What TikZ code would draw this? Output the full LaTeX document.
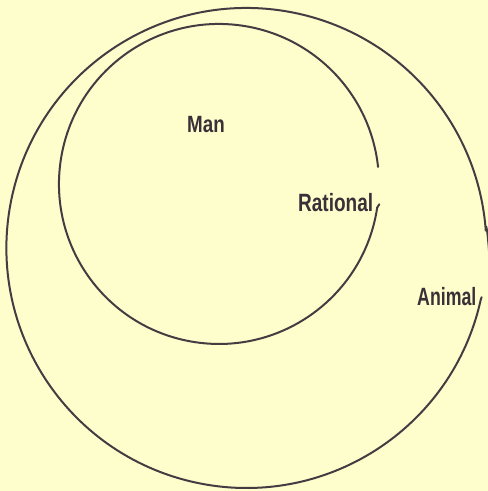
\documentclass[tikz,border=0pt]{standalone}
\usepackage{fontspec}
\setmainfont{Liberation Sans}
\definecolor{paper}{HTML}{FEFECC}
\definecolor{ink}{HTML}{463B43}
\definecolor{txtink}{HTML}{3A3038}
\begin{document}
\begin{tikzpicture}[x=1pt,y=-1pt]
\tikzset{
  circ/.style={draw=ink, line width=2pt, line cap=round},
  lbl/.style={inner sep=0pt, anchor=base west, text=txtink, font=\bfseries\fontsize{25}{25}\selectfont},
  manlbl/.style={lbl, font=\bfseries\fontsize{23.5}{24}\selectfont}
}
\fill[paper] (0,0) rectangle (488,491);
\clip (0,0) rectangle (488,491);
% small circle (Rational / Man)
\coordinate (sc) at (219,184);
\draw[circ] (379.3,204.3) .. controls (378.2,205.6) .. (377.2,207.6)
  arc[start angle=8.5, end angle=353.9, radius=160];
% big circle (Animal)
\coordinate (bc) at (247,248);
\draw[circ] (481.6,297.2) .. controls (481.2,298.0) .. (480.8,299.5)
  arc[start angle=12.4, end angle=356, radius=240]
  to[out=88, in=283] (489,297);
\node[manlbl] (man) at (187,132) {\scalebox{0.8}[1]{Man}};
\node[lbl] (rat) at (298,211) {\scalebox{0.76}[1]{Rational}};
\node[lbl] (ani) at (417,305) {\scalebox{0.71}[1]{Animal}};
\end{tikzpicture}
\end{document}
